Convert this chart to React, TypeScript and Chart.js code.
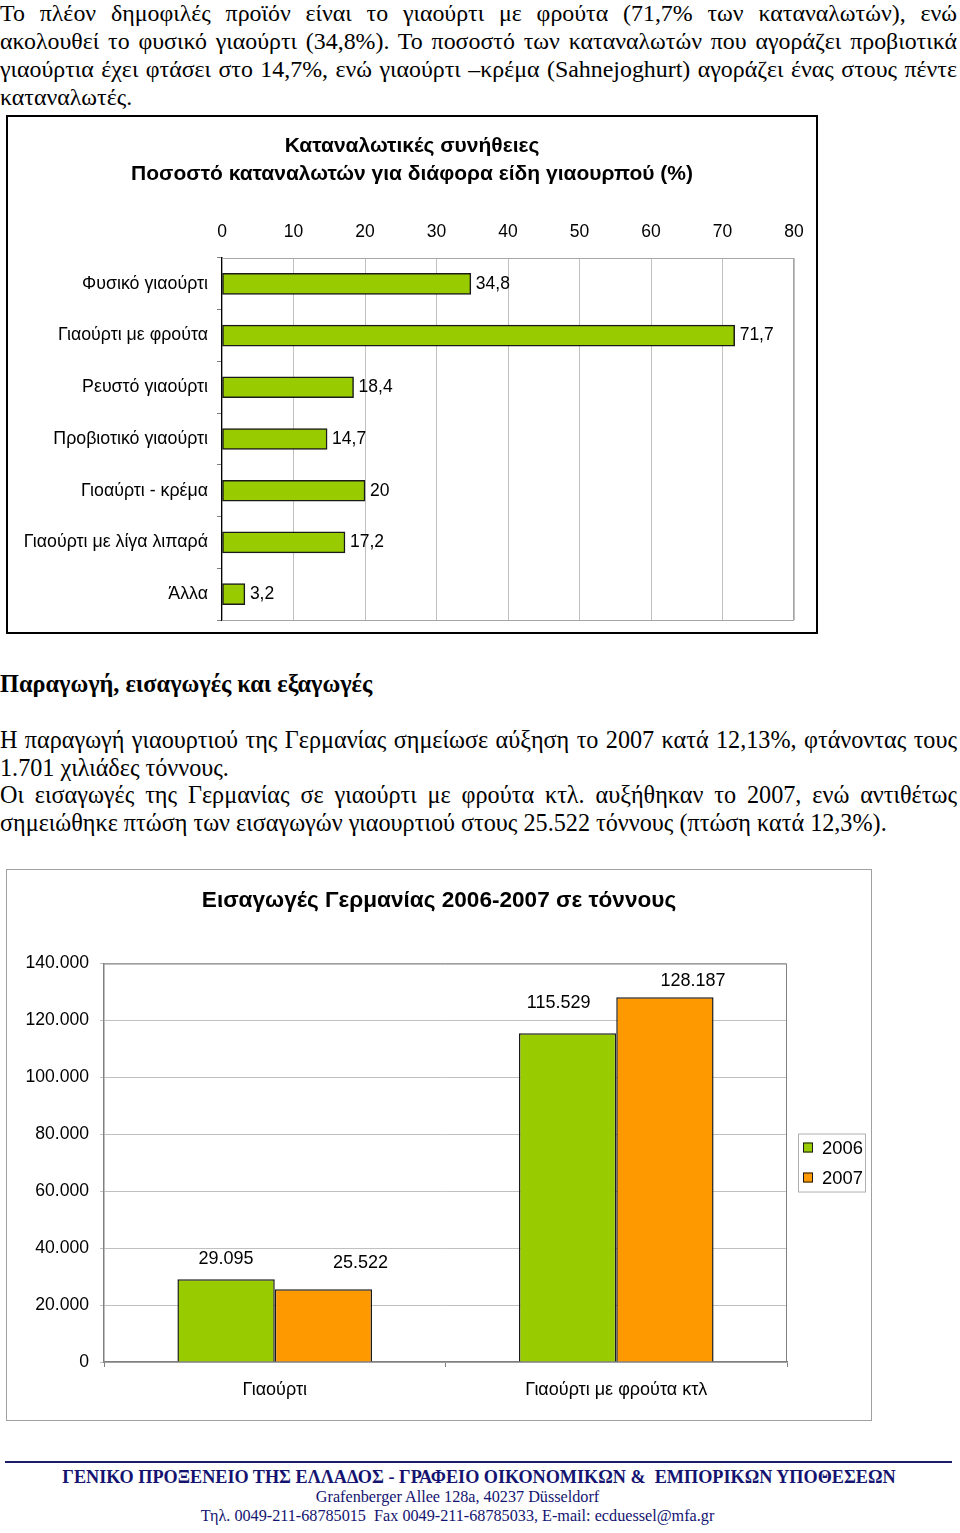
import React, { useEffect, useRef } from "react";
import { Chart, registerables } from "chart.js";

Chart.register(...registerables);

// ---------- Data ----------
const habitTitle = ["Καταναλωτικές συνήθειες", "Ποσοστό καταναλωτών για διάφορα είδη γιαουρπού (%)"];
const habitCategories = [
  "Φυσικό γιαούρτι",
  "Γιαούρτι με φρούτα",
  "Ρευστό γιαούρτι",
  "Προβιοτικό γιαούρτι",
  "Γιοαύρτι - κρέμα",
  "Γιαούρτι με λίγα λιπαρά",
  "Άλλα",
];
const habitValues = [34.8, 71.7, 18.4, 14.7, 20, 17.2, 3.2];
const habitAxisMin = 0;
const habitAxisMax = 80;
const habitAxisStep = 10;

const importTitle = "Εισαγωγές Γερμανίας 2006-2007 σε τόννους";
const importCategories = ["Γιαούρτι", "Γιαούρτι με φρούτα κτλ"];
const importYears = ["2006", "2007"];
const imports2006 = [29095, 115529];
const imports2007 = [25522, 128187];
const importAxisMax = 140000;
const importAxisStep = 20000;

// label nudges relative to the bar top (style only)
const importLabelNudge = [
  [{ dx: 0, dy: -20 }, { dx: -9, dy: -30 }],
  [{ dx: 37, dy: -26 }, { dx: 28, dy: -16 }],
];

const GREEN = "#99CC00";
const ORANGE = "#FF9900";
const SANS = "'Liberation Sans', Arial, sans-serif";
const SERIF = "'Liberation Serif', 'Times New Roman', serif";

const fmtComma = (v: number) => String(v).replace(".", ",");
const fmtThousands = (v: number) =>
  String(Math.round(v)).replace(/\B(?=(\d{3})+(?!\d))/g, ".");

const zeroPad = (s: any) => {
  s.paddingLeft = 0;
  s.paddingRight = 0;
  s.paddingTop = 0;
  s.paddingBottom = 0;
};

// ---------- Chart 1 ----------
function HabitsChart() {
  const ref = useRef<HTMLCanvasElement | null>(null);
  useEffect(() => {
    if (!ref.current) return;
    const framePlugin = {
      id: "frame1",
      beforeDatasetsDraw(chart: any) {
        const { ctx, chartArea: a } = chart;
        ctx.save();
        ctx.strokeStyle = "#a6a6a6";
        ctx.lineWidth = 1;
        ctx.strokeRect(a.left + 0.5, a.top + 0.5, a.right - a.left - 1, a.bottom - a.top);
        ctx.restore();
      },
    };
    const labelPlugin = {
      id: "labels1",
      afterDatasetsDraw(chart: any) {
        const { ctx } = chart;
        const meta = chart.getDatasetMeta(0);
        ctx.save();
        ctx.font = `17.5px ${SANS}`;
        ctx.fillStyle = "#000";
        ctx.textAlign = "left";
        ctx.textBaseline = "middle";
        meta.data.forEach((el: any, i: number) => {
          ctx.fillText(fmtComma(habitValues[i]), el.x + 5, el.y);
        });
        ctx.restore();
      },
    };
    const chart = new Chart(ref.current, {
      type: "bar",
      data: {
        labels: habitCategories,
        datasets: [
          {
            data: habitValues,
            backgroundColor: GREEN,
            borderColor: "#1a1a1a",
            borderWidth: 1.5,
            borderSkipped: false,
            barThickness: 21,
          },
        ],
      },
      options: {
        indexAxis: "y",
        animation: false,
        responsive: false,
        layout: { padding: { top: 0, left: 0, right: 0, bottom: 12 } },
        plugins: {
          legend: { display: false },
          tooltip: { enabled: false },
          title: {
            display: true,
            text: habitTitle,
            color: "#000",
            font: { family: SANS, size: 21, weight: "bold", lineHeight: 1.333 },
            padding: { top: 15, bottom: 24 },
          },
        },
        scales: {
          x: {
            position: "top",
            min: habitAxisMin,
            max: habitAxisMax,
            ticks: { stepSize: habitAxisStep, color: "#000", font: { family: SANS, size: 17.5 }, padding: 15 },
            grid: { color: "#c0c0c0", drawTicks: false },
            border: { display: false },
            afterFit: (s: any) => { s.height = 46; zeroPad(s); },
          },
          y: {
            ticks: { color: "#000", font: { family: SANS, size: 17.8 }, padding: 9 },
            grid: { drawOnChartArea: false, tickLength: 5, color: "#808080", offset: true },
            border: { color: "#000", width: 1.5 },
            afterFit: (s: any) => { s.width = 214; zeroPad(s); },
          },
          yPad: {
            type: "linear",
            position: "right",
            display: true,
            ticks: { display: false },
            grid: { display: false },
            border: { display: false },
            afterFit: (s: any) => { s.width = 22; zeroPad(s); },
          },
        },
      } as any,
      plugins: [framePlugin, labelPlugin],
    });
    return () => chart.destroy();
  }, []);
  return <canvas ref={ref} width={808} height={515} style={{ display: "block" }} />;
}

// ---------- Chart 2 ----------
function ImportsChart() {
  const ref = useRef<HTMLCanvasElement | null>(null);
  useEffect(() => {
    if (!ref.current) return;
    const framePlugin = {
      id: "frame2",
      beforeDatasetsDraw(chart: any) {
        const { ctx, chartArea: a } = chart;
        ctx.save();
        ctx.strokeStyle = "#808080";
        ctx.lineWidth = 1;
        ctx.beginPath();
        ctx.moveTo(a.left, a.top + 0.5);
        ctx.lineTo(a.right - 0.5, a.top + 0.5);
        ctx.lineTo(a.right - 0.5, a.bottom);
        ctx.stroke();
        ctx.restore();
      },
    };
    const labelPlugin = {
      id: "labels2",
      afterDatasetsDraw(chart: any) {
        const { ctx } = chart;
        ctx.save();
        ctx.font = `18px ${SANS}`;
        ctx.fillStyle = "#000";
        ctx.textAlign = "center";
        ctx.textBaseline = "middle";
        chart.data.datasets.forEach((ds: any, di: number) => {
          const meta = chart.getDatasetMeta(di);
          meta.data.forEach((el: any, i: number) => {
            const n = importLabelNudge[di][i];
            ctx.fillText(fmtThousands(ds.data[i]), el.x + n.dx, el.y + n.dy);
          });
        });
        ctx.restore();
      },
    };
    const legendPlugin = {
      id: "legend2",
      afterDraw(chart: any) {
        const { ctx, chartArea: a } = chart;
        const bx = a.right + 11;
        const by = a.top + 170;
        ctx.save();
        ctx.fillStyle = "#fff";
        ctx.strokeStyle = "#b0b0b0";
        ctx.lineWidth = 1;
        ctx.fillRect(bx, by, 68, 59);
        ctx.strokeRect(bx + 0.5, by + 0.5, 67, 58);
        ctx.font = `18.4px ${SANS}`;
        ctx.textAlign = "left";
        ctx.textBaseline = "middle";
        chart.data.datasets.forEach((ds: any, i: number) => {
          const cy = by + 14 + i * 30;
          ctx.fillStyle = ds.backgroundColor;
          ctx.fillRect(bx + 5, cy - 5, 10, 10);
          ctx.strokeStyle = "#1a1a1a";
          ctx.strokeRect(bx + 5.5, cy - 4.5, 9, 9);
          ctx.fillStyle = "#000";
          ctx.fillText(ds.label, bx + 24, cy + 1);
        });
        ctx.restore();
      },
    };
    const chart = new Chart(ref.current, {
      type: "bar",
      data: {
        labels: importCategories,
        datasets: [
          { label: importYears[0], data: imports2006, backgroundColor: GREEN, borderColor: "#1a1a1a", borderWidth: 1.5, borderSkipped: "bottom" },
          { label: importYears[1], data: imports2007, backgroundColor: ORANGE, borderColor: "#1a1a1a", borderWidth: 1.5, borderSkipped: "bottom" },
        ],
      },
      options: {
        animation: false,
        responsive: false,
        layout: { padding: { top: 0, left: 0, right: 0, bottom: 0 } },
        datasets: { bar: { categoryPercentage: 0.57, barPercentage: 1 } },
        plugins: {
          legend: { display: false },
          tooltip: { enabled: false },
          title: {
            display: true,
            text: importTitle,
            color: "#000",
            font: { family: SANS, size: 22.6, weight: "bold", lineHeight: 1.2 },
            padding: { top: 17.4, bottom: 49.0 },
          },
        },
        scales: {
          x: {
            ticks: { color: "#000", font: { family: SANS, size: 18 }, padding: 12 },
            grid: { drawOnChartArea: false, tickLength: 5, color: "#808080", offset: true },
            border: { color: "#808080", width: 1.5 },
            afterFit: (s: any) => { s.height = 58; zeroPad(s); },
          },
          y: {
            min: 0,
            max: importAxisMax,
            ticks: {
              stepSize: importAxisStep,
              color: "#000",
              font: { family: SANS, size: 17.6 },
              padding: 11,
              callback: (v: any) => fmtThousands(Number(v)),
            },
            grid: { color: "#c0c0c0", tickLength: 4 },
            border: { color: "#808080", width: 1.5 },
            afterFit: (s: any) => { s.width = 97; zeroPad(s); },
          },
          yPad: {
            type: "linear",
            position: "right",
            display: true,
            ticks: { display: false },
            grid: { display: false },
            border: { display: false },
            afterFit: (s: any) => { s.width = 84; zeroPad(s); },
          },
        },
      } as any,
      plugins: [framePlugin, labelPlugin, legendPlugin],
    });
    return () => chart.destroy();
  }, []);
  return <canvas ref={ref} width={864} height={550} style={{ display: "block" }} />;
}

// ---------- Page ----------
const para1 = [
  "Το πλέον δημοφιλές προϊόν είναι το γιαούρτι με φρούτα (71,7% των καταναλωτών), ενώ",
  "ακολουθεί το φυσικό γιαούρτι (34,8%). Το ποσοστό των καταναλωτών που αγοράζει προβιοτικά",
  "γιαούρτια έχει φτάσει στο 14,7%, ενώ γιαούρτι –κρέμα (Sahnejoghurt) αγοράζει ένας στους πέντε",
  "καταναλωτές.",
];
const para1Justify = [true, true, true, false];
const para2 = [
  "Η παραγωγή γιαουρτιού της Γερμανίας σημείωσε αύξηση το 2007 κατά 12,13%, φτάνοντας τους",
  "1.701 χιλιάδες τόννους.",
  "Οι εισαγωγές της Γερμανίας σε γιαούρτι με φρούτα κτλ. αυξήθηκαν το 2007, ενώ αντιθέτως",
  "σημειώθηκε πτώση των εισαγωγών γιαουρτιού στους 25.522 τόννους (πτώση κατά 12,3%).",
];
const para2Justify = [true, false, true, false];

function Lines({ lines, justify, top, lh, size }: { lines: string[]; justify: boolean[]; top: number; lh: number; size: number }) {
  return (
    <div style={{ position: "absolute", left: 0, top, width: 957, fontFamily: SERIF, fontSize: size, lineHeight: `${lh}px`, color: "#000" }}>
      {lines.map((t, i) => (
        <div
          key={i}
          style={{
            whiteSpace: "nowrap",
            textAlign: justify[i] ? "justify" : "left",
            textAlignLast: justify[i] ? "justify" : "left",
            height: lh,
          } as any}
        >
          {t}
        </div>
      ))}
    </div>
  );
}

export default function App() {
  return (
    <div style={{ position: "absolute", left: 0, top: 0, width: 960, height: 1533, background: "#fff", overflow: "hidden" }}>
      <Lines lines={para1} justify={para1Justify} top={-1} lh={28} size={23.9} />

      <div style={{ position: "absolute", left: 6, top: 115, width: 808, height: 515, border: "2px solid #000" }}>
        <HabitsChart />
      </div>

      <div style={{ position: "absolute", left: 0, top: 670, fontFamily: SERIF, fontSize: 24.3, fontWeight: "bold", lineHeight: "28px", whiteSpace: "nowrap" }}>
        Παραγωγή, εισαγωγές και εξαγωγές
      </div>

      <Lines lines={para2} justify={para2Justify} top={726} lh={27.5} size={24.2} />

      <div style={{ position: "absolute", left: 6, top: 869, width: 864, height: 550, border: "1px solid #a0a0a0" }}>
        <ImportsChart />
      </div>

      <div style={{ position: "absolute", left: 5, top: 1461, width: 947, height: 2, background: "#1c1c6a" }} />
      <div style={{ position: "absolute", left: 0, width: 958, top: 1466, textAlign: "center", fontFamily: SERIF, fontWeight: "bold", fontSize: 18.2, lineHeight: "22px", color: "#141470", whiteSpace: "pre" }}>
        {"ΓΕΝΙΚΟ ΠΡΟΞΕΝΕΙΟ ΤΗΣ ΕΛΛΑΔΟΣ - ΓΡΑΦΕΙΟ ΟΙΚΟΝΟΜΙΚΩΝ &  ΕΜΠΟΡΙΚΩΝ ΥΠΟΘΕΣΕΩΝ"}
      </div>
      <div style={{ position: "absolute", left: 0, width: 915, top: 1488, textAlign: "center", fontFamily: SERIF, fontSize: 16.2, lineHeight: "19px", color: "#141470", whiteSpace: "pre" }}>
        {"Grafenberger Allee 128a, 40237 Düsseldorf"}
      </div>
      <div style={{ position: "absolute", left: 0, width: 915, top: 1507, textAlign: "center", fontFamily: SERIF, fontSize: 16.2, lineHeight: "19px", color: "#141470", whiteSpace: "pre" }}>
        {"Τηλ. 0049-211-68785015  Fax 0049-211-68785033, E-mail: ecduessel@mfa.gr"}
      </div>
    </div>
  );
}
